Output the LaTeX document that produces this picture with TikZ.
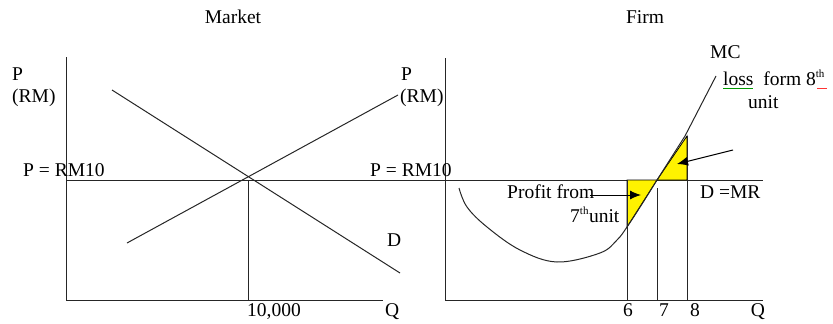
\documentclass[tikz,border=0pt]{standalone}
\usepackage{fontspec}
\setmainfont{Liberation Serif}
\usetikzlibrary{arrows.meta}
\tikzset{
  lbl/.style={inner sep=0pt, font=\fontsize{19.5}{22}\selectfont},
  ln/.style={line width=1pt, black!85},
  tri/.style={fill=yellow, draw=black, line width=0.8pt},
  pointer/.style={line width=1pt, -{Latex[length=11pt,width=9pt]}},
}
\newcommand{\sth}{\textsuperscript{\fontsize{11}{12}\selectfont th}}
\begin{document}
\begin{tikzpicture}[x=1pt,y=-1pt]
\useasboundingbox (0,0) rectangle (833,324);
% titles
\node[lbl] (tmarket) at (233,17) {Market};
\node[lbl] (tfirm) at (645,17) {Firm};
% ---------- Market ----------
\coordinate (lo) at (66,300);
\coordinate (ltop) at (66,57);
\coordinate (lend) at (383,300);
\draw[ln] (ltop) -- (lo) -- (lend);
\coordinate (d1) at (112,90);
\coordinate (d2) at (400,273);
\coordinate (s1) at (127,243);
\coordinate (s2) at (398,95);
\draw[ln] (d1) -- (d2);
\draw[ln] (s1) -- (s2);
\coordinate (pl) at (66,180);
\coordinate (pr) at (763,180);
\draw[ln] (pl) -- (pr);
\coordinate (q1) at (248,180);
\coordinate (q0) at (248,300);
\draw[ln] (q1) -- (q0);
\node[lbl,anchor=base west] (lp) at (12,80) {P};
\node[lbl,anchor=base west] (lrm) at (12,102) {(RM)};
\node[lbl,anchor=base west] (lp10) at (23,176) {P = RM10};
\node[lbl,anchor=base west] (ld) at (387,246) {D};
\node[lbl,anchor=base west] (lq) at (247,316) {10,000};
\node[lbl,anchor=base west] (lqq) at (385,316) {Q};
% ---------- Firm ----------
\coordinate (ro) at (445,300);
\coordinate (rtop) at (445,58);
\coordinate (rend) at (763,300);
\draw[ln] (rtop) -- (ro) -- (rend);
% yellow triangles
\coordinate (a6) at (627,180);
\coordinate (a7) at (657,180);
\coordinate (a8) at (687,180);
\coordinate (m6) at (627,227);
\coordinate (m8) at (687,136);
\draw[tri] (a6) -- (a7) -- (m6) -- cycle;
\draw[tri] (a7) -- (a8) -- (m8) -- cycle;
% verticals
\draw[ln] (a6) -- (627,300);
\draw[ln] (657,188) -- (657,300);
\draw[ln] (m8) -- (687,300);
% MC curve
\draw[ln] plot[smooth, tension=0.6] coordinates {(459,188) (467,207) (487,227) (520,250) (557,262) (600,253) (617,240) (627,227) (642,204) (657,180)} -- (685,136) -- (716,76);
% labels firm
\node[lbl,anchor=base west] (rp) at (401,80) {P};
\node[lbl,anchor=base west] (rrm) at (400,102) {(RM)};
\node[lbl,anchor=base west] (rp10) at (370,176) {P = RM10};
\node[lbl,anchor=base west] (rmr) at (700,198) {D =MR};
\node[lbl,anchor=base west] (rprofit) at (507,198) {Profit from};
\node[lbl,anchor=base west] (r7) at (570,222) {7\sth unit};
\node[lbl,anchor=base west] (rmc) at (710,58) {MC};
\node[lbl,anchor=base west] (rloss) at (723,85) {loss\ \ form 8\sth};
\node[lbl,anchor=base west] (runit) at (748,108) {unit};
\node[lbl,anchor=base] (n6) at (628,316) {6};
\node[lbl,anchor=base] (n7) at (664,316) {7};
\node[lbl,anchor=base] (n8) at (695,316) {8};
\node[lbl,anchor=base] (nq) at (758,316) {Q};
% spell-check marks
\draw[green!60!black, line width=0.6pt] (723,88) -- (753,88);
\draw[red!80, line width=0.6pt] (817,88) -- (827,88);
% arrows
\coordinate (pa1) at (590,195);
\coordinate (pa2) at (641,195);
\draw[pointer] (pa1) -- (pa2);
\coordinate (la1) at (733,150);
\coordinate (la2) at (677,164);
\draw[pointer] (la1) -- (la2);
\end{tikzpicture}
\end{document}
